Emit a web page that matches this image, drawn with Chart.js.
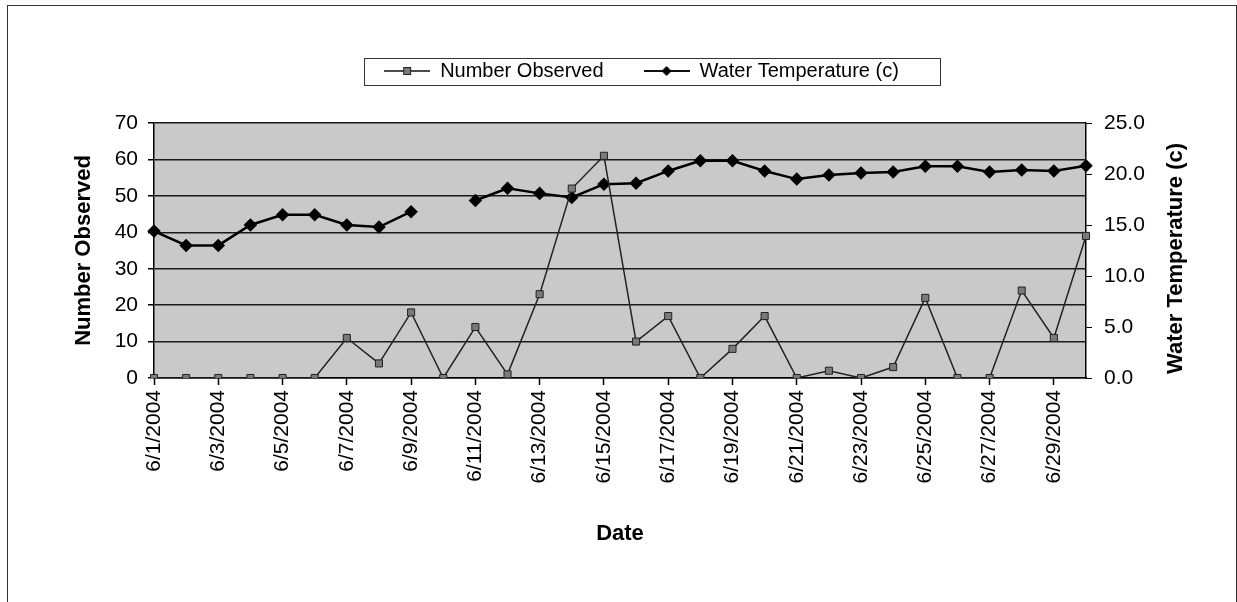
<!DOCTYPE html>
<html>
<head>
<meta charset="utf-8">
<title>Number Observed and Water Temperature</title>
<script src="https://cdn.jsdelivr.net/npm/chart.js@4.4.1/dist/chart.umd.min.js"></script>
<style>
  html, body { margin: 0; padding: 0; background: #fff; }
  #wrap { width: 1237px; height: 602px; position: relative; }
</style>
</head>
<body>
<div id="wrap"><canvas id="fishChart"></canvas></div>
<script>
// data
var dates = ['6/1/2004', '6/2/2004', '6/3/2004', '6/4/2004', '6/5/2004', '6/6/2004',
    '6/7/2004', '6/8/2004', '6/9/2004', '6/10/2004', '6/11/2004', '6/12/2004',
    '6/13/2004', '6/14/2004', '6/15/2004', '6/16/2004', '6/17/2004', '6/18/2004',
    '6/19/2004', '6/20/2004', '6/21/2004', '6/22/2004', '6/23/2004', '6/24/2004',
    '6/25/2004', '6/26/2004', '6/27/2004', '6/28/2004', '6/29/2004', '6/30/2004']
var numberObserved = [0, 0, 0, 0, 0, 0, 11, 4, 18, 0, 14, 1, 23, 52, 61, 10, 17, 0,
    8, 17, 0, 2, 0, 3, 22, 0, 0, 24, 11, 39]
var waterTemp = [14.4, 13.0, 13.0, 15.0, 16.0, 16.0, 15.0, 14.8, 16.3, null, 17.4, 18.6,
    18.1, 17.7, 19.0, 19.1, 20.3, 21.3, 21.3, 20.3, 19.5, 19.9, 20.1, 20.2,
    20.75, 20.75, 20.2, 20.4, 20.3, 20.8]
var countTicks = [0, 10, 20, 30, 40, 50, 60, 70]
var tempTicks = [0, 5, 10, 15, 20, 25]

Chart.defaults.font.family = '"Liberation Sans", Arial, sans-serif'
Chart.defaults.color = '#000'

// little line+marker pictures for the legend
function legendSample(kind) {
    var c = document.createElement('canvas')
    c.width = 46
    c.height = 14
    var g = c.getContext('2d')
    g.strokeStyle = '#111'
    g.lineWidth = kind === 'square' ? 1.5 : 2
    g.beginPath()
    g.moveTo(0, 7)
    g.lineTo(46, 7)
    g.stroke()
    if (kind === 'square') {
        g.fillStyle = '#7a7a7a'
        g.fillRect(19.5, 3.5, 7, 7)
        g.lineWidth = 1
        g.strokeStyle = '#222'
        g.strokeRect(19.5, 3.5, 7, 7)
    } else {
        g.fillStyle = '#000'
        g.beginPath()
        g.moveTo(23, 2)
        g.lineTo(28, 7)
        g.lineTo(23, 12)
        g.lineTo(18, 7)
        g.closePath()
        g.fill()
    }
    return c
}
var legendImgs = [legendSample('square'), legendSample('diamond')]

var decorPlugin = {
    id: 'decor',
    beforeDraw: function (chart) {
        var ctx = chart.ctx, a = chart.chartArea
        ctx.save()
        ctx.fillStyle = '#c9c9c9'
        ctx.fillRect(a.left, a.top, a.right - a.left, a.bottom - a.top)
        ctx.restore()
    },
    afterDraw: function (chart) {
        var ctx = chart.ctx, a = chart.chartArea
        ctx.save()
        // outer frame
        ctx.strokeStyle = '#333'
        ctx.lineWidth = 1
        ctx.strokeRect(7.5, 5.5, 1229, 640)
        // legend frame
        var hb = chart.legend.legendHitBoxes
        if (hb && hb.length) {
            var l = hb[0].left - 20
            var r = hb[hb.length - 1].left + hb[hb.length - 1].width + 41
            var t = hb[0].top + 10 - 13
            ctx.strokeRect(Math.round(l) + 0.5, Math.round(t) + 0.5, Math.round(r - l), 27)
        }
        // right axis title, reads bottom to top
        ctx.translate(a.right + 90, (a.top + a.bottom) / 2 + 8)
        ctx.rotate(-Math.PI / 2)
        ctx.font = 'bold 22px "Liberation Sans", Arial, sans-serif'
        ctx.fillStyle = '#000'
        ctx.textAlign = 'center'
        ctx.textBaseline = 'middle'
        ctx.fillText('Water Temperature (c)', 0, 0)
        ctx.restore()
    }
}

var chartCanvas = document.getElementById('fishChart').getContext('2d')
new Chart(chartCanvas, {
    type: 'line',
    data: {
        labels: dates,
        datasets: [{
            label: 'Number Observed',
            data: numberObserved,
            yAxisID: 'y',
            borderColor: '#222',
            borderWidth: 1.5,
            pointStyle: 'rect',
            pointRadius: 5,
            pointBackgroundColor: '#7a7a7a',
            pointBorderColor: '#222',
            pointBorderWidth: 1,
            tension: 0
        }, {
            label: 'Water Temperature (c)',
            data: waterTemp,
            yAxisID: 'y1',
            borderColor: '#000',
            borderWidth: 2.5,
            pointStyle: 'rectRot',
            pointRadius: 5,
            pointBackgroundColor: '#000',
            pointBorderColor: '#000',
            spanGaps: false,
            tension: 0
        }]
    },
    options: {
        responsive: true,
        maintainAspectRatio: false,
        animation: false,
        layout: { padding: { left: 46, right: 0, top: 21, bottom: 51 } },
        plugins: {
            tooltip: { enabled: false },
            legend: {
                position: 'top',
                labels: {
                    usePointStyle: true,
                    pointStyleWidth: 46,
                    padding: 40,
                    font: { size: 20 },
                    color: '#000',
                    generateLabels: function (chart) {
                        return chart.data.datasets.map(function (ds, i) {
                            return {
                                text: ds.label,
                                pointStyle: legendImgs[i],
                                fillStyle: '#000',
                                strokeStyle: '#000',
                                lineWidth: 0,
                                hidden: false,
                                datasetIndex: i
                            }
                        })
                    }
                }
            },
            // empty spacer between legend and plot
            subtitle: {
                display: true,
                text: '',
                position: 'top',
                weight: 500,
                padding: 0,
                font: { size: 32, lineHeight: 1 }
            }
        },
        scales: {
            x: {
                type: 'category',
                offset: false,
                grid: {
                    drawOnChartArea: false,
                    tickLength: 7,
                    tickWidth: 1.5,
                    tickColor: function (c) { return c.index % 2 === 0 ? '#000' : 'rgba(0,0,0,0)' }
                },
                border: { color: '#000', width: 1.5 },
                ticks: {
                    autoSkip: false,
                    minRotation: 90,
                    maxRotation: 90,
                    padding: 5,
                    font: { size: 21 },
                    callback: function (v, i) { return i % 2 === 0 ? this.getLabelForValue(v) : '' }
                },
                title: {
                    display: true,
                    text: 'Date',
                    font: { size: 22, weight: 'bold' },
                    padding: { top: 4, bottom: 4 }
                },
                afterFit: function (s) { s.height = 173 }
            },
            y: {
                position: 'left',
                min: countTicks[0],
                max: countTicks[countTicks.length - 1],
                afterBuildTicks: function (s) { s.ticks = countTicks.map(function (v) { return { value: v } }) },
                grid: { color: '#1a1a1a', lineWidth: 1.5, tickLength: 6, tickColor: '#000' },
                border: { color: '#000', width: 1.5 },
                ticks: { font: { size: 21 }, padding: 10 },
                title: {
                    display: true,
                    text: 'Number Observed',
                    font: { size: 22, weight: 'bold' },
                    padding: { top: 25, bottom: 0 }
                },
                afterFit: function (s) { s.width = 108 }
            },
            y1: {
                position: 'right',
                min: tempTicks[0],
                max: tempTicks[tempTicks.length - 1],
                afterBuildTicks: function (s) { s.ticks = tempTicks.map(function (v) { return { value: v } }) },
                grid: { drawOnChartArea: false, tickLength: 6, tickColor: '#000' },
                border: { color: '#000', width: 1.5 },
                ticks: {
                    font: { size: 21 },
                    padding: 12,
                    callback: function (v) { return Number(v).toFixed(1) }
                },
                afterFit: function (s) { s.width = 151 }
            }
        }
    },
    plugins: [decorPlugin]
})
</script>
</body>
</html>
